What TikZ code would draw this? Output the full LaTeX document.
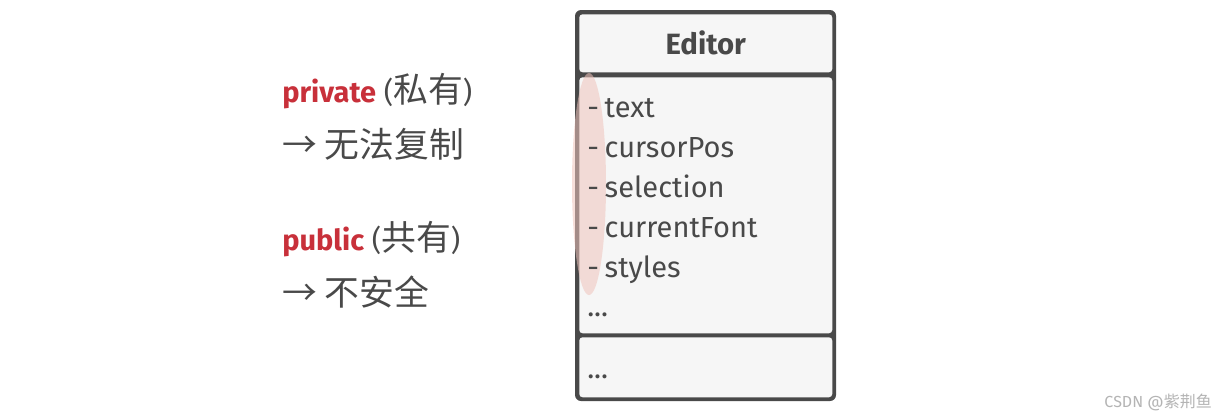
\documentclass[tikz,border=0pt]{standalone}
\usepackage{fontspec}
\setmainfont{Fira Sans}
\newfontfamily\cjk[Scale=1.2]{Noto Sans CJK SC}
\usetikzlibrary{positioning}

\definecolor{umlgray}{HTML}{494949}
\definecolor{umlfill}{HTML}{F6F6F6}
\definecolor{keyred}{HTML}{C8303A}
\definecolor{hilite}{HTML}{F0C4BC}
\definecolor{wmgray}{HTML}{B4B4B4}

\newcommand{\fld}[1]{-\hspace{0.2em}#1}

\tikzset{
  compart/.style={fill=umlfill, rounded corners=2.5pt, inner sep=0pt, minimum width=189.75pt, anchor=north west},
  attr/.style={anchor=base west, inner sep=0.75pt, text=umlgray, font=\fontsize{21.75}{26}\selectfont},
  note/.style={anchor=base west, inner sep=0.75pt, text=umlgray, font=\fontsize{21.75}{26}\selectfont}
}

\begin{document}
\begin{tikzpicture}[x=0.75pt,y=0.75pt,yscale=-1,xscale=1]
    \useasboundingbox (0,0) rectangle (1230,419);

    %Shape: Frame [class box]
    \fill [umlgray, rounded corners=4.5pt] (575,10) rectangle (836,401);
    %Shape: Compartments
    \node [compart, minimum height=43.5pt] (header) at (579,14) {};
    \node [compart, minimum height=192pt] (fields) at (579,77) {};
    \node [compart, minimum height=45pt] (methods) at (579,337) {};
    %Shape: Ellipse [highlight]
    \fill [hilite, opacity=0.55] (589,184) ellipse (17 and 111);

    % Text Node
    \node [inner sep=0.75pt, text=umlgray, font=\fontsize{22}{26}\selectfont\bfseries] (title) at (header.center) {Editor};
    % Text Node
    \node [attr] (f1) at (586,117) {\fld{text}};
    \node [attr] (f2) at (586,157) {\fld{cursorPos}};
    \node [attr] (f3) at (586,197) {\fld{selection}};
    \node [attr] (f4) at (586,237) {\fld{currentFont}};
    \node [attr] (f5) at (586,277) {\fld{styles}};
    \node [attr] (f6) at (586,316) {...};
    % Text Node
    \node [attr] (m1) at (586,378) {...};

    % Text Node
    \node [note] (priv) at (281,102) {\textcolor{keyred}{\bfseries private} ({\cjk 私有})};
    \node [note] (privres) at (281,157) {{\cjk → 无法复制}};
    % Text Node
    \node [note] (pub) at (281,250) {\textcolor{keyred}{\bfseries public} ({\cjk 共有})};
    \node [note] (pubres) at (281,305) {{\cjk → 不安全}};

    % Text Node
    \node [anchor=base east, inner sep=0.75pt, text=wmgray, font=\fontsize{12}{14}\selectfont] (mark) at (1213,407) {CSDN @{\cjk\fontsize{10}{12}\selectfont 紫荆鱼}};

\end{tikzpicture}
\end{document}
